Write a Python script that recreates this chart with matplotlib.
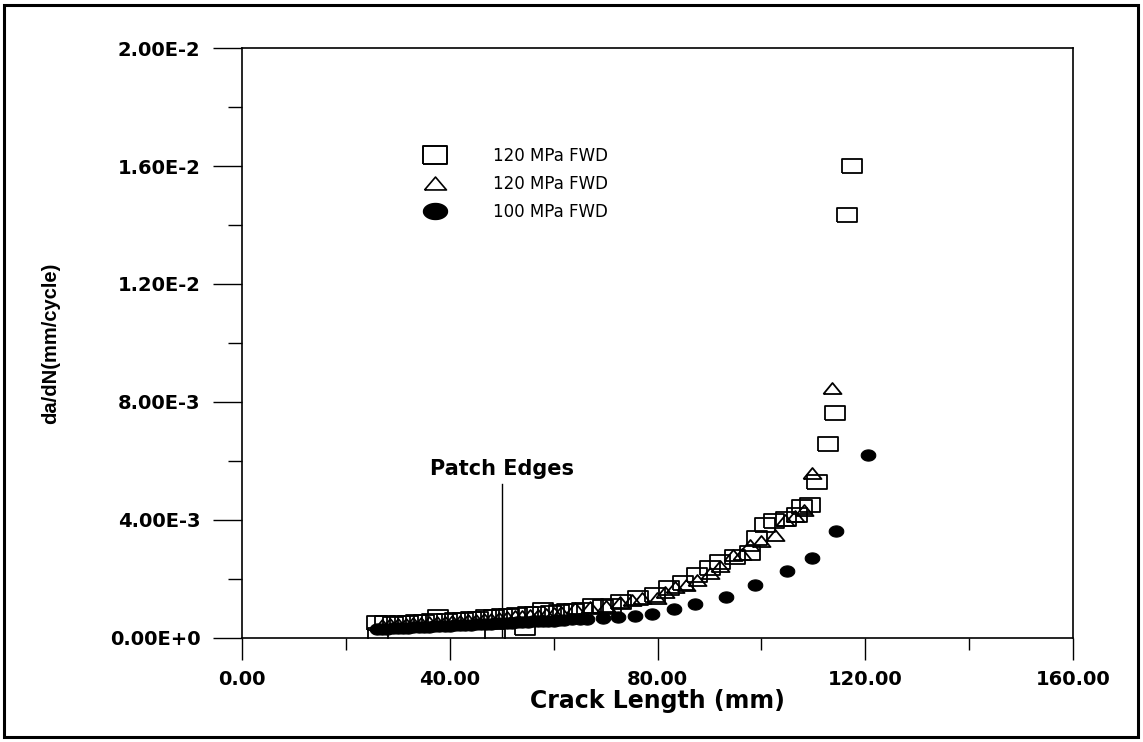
import numpy as np
import matplotlib
matplotlib.use("Agg")
import matplotlib.pyplot as plt
from matplotlib.lines import Line2D
from matplotlib.patches import Rectangle
from matplotlib.ticker import MultipleLocator, FuncFormatter

# --- data (crack length in mm, da/dN in mm/cycle) ---
sq_x = [26.2, 26.0, 27.5, 29.0, 30.5, 32.0, 33.5, 35.0, 36.5, 37.7, 39.5, 41.0, 42.5,
        44.0, 45.5, 47.0, 48.5, 48.8, 50.0, 51.5, 53.0, 54.5, 55.0, 56.5, 58.0, 59.5,
        61.0, 62.5, 64.0, 65.5, 67.5, 69.5, 71.0, 73.0, 76.2, 79.5, 82.2, 84.9, 87.6,
        90.1, 92.0, 94.9, 97.8, 99.2, 100.7, 102.5, 104.8, 106.8, 107.8, 109.4, 110.7,
        112.8, 114.2, 116.5, 117.4]
sq_y = [0.10, 0.52, 0.50, 0.48, 0.50, 0.52, 0.53, 0.55, 0.57, 0.71, 0.58, 0.60, 0.61,
        0.63, 0.66, 0.70, 0.72, 0.05, 0.75, 0.76, 0.78, 0.34, 0.80, 0.82, 0.95, 0.86,
        0.88, 0.90, 0.93, 0.96, 1.10, 1.05, 1.10, 1.22, 1.36, 1.46, 1.69, 1.86, 2.14,
        2.37, 2.58, 2.75, 2.88, 3.39, 3.83, 3.95, 4.05, 4.17, 4.44, 4.51, 5.29,
        6.58, 7.63, 14.34, 16.00]

tri_x = [27.0, 28.5, 30.0, 31.5, 33.0, 34.5, 36.0, 37.5, 39.0, 40.5, 42.0, 43.5, 45.0,
         46.5, 48.0, 49.5, 51.0, 52.5, 54.0, 55.5, 57.0, 58.5, 60.0, 61.5, 64.1, 67.0,
         70.0, 72.8, 75.0, 77.0, 79.9, 81.5, 83.4, 85.5, 87.6, 90.1, 92.0, 94.5, 96.2,
         97.8, 100.0, 102.6, 104.5, 106.5, 108.2, 109.7, 113.6]
tri_y = [0.45, 0.46, 0.47, 0.48, 0.50, 0.51, 0.53, 0.54, 0.55, 0.57, 0.58, 0.60, 0.62,
         0.64, 0.66, 0.68, 0.71, 0.73, 0.75, 0.77, 0.79, 0.82, 0.85, 0.88, 1.00, 1.05,
         1.10, 1.22, 1.28, 1.36, 1.36, 1.55, 1.73, 1.78, 1.95, 2.20, 2.45, 2.80, 2.85,
         3.15, 3.30, 3.49, 4.00, 4.12, 4.35, 5.59, 8.47]

cir_x = [26.0, 27.0, 28.0, 29.0, 30.0, 31.0, 32.0, 33.0, 34.0, 35.0, 36.0, 37.0, 38.0,
         39.0, 40.0, 41.0, 42.0, 43.0, 44.0, 45.0, 46.0, 47.0, 48.0, 49.0, 50.0, 51.0,
         52.0, 53.0, 54.0, 55.0, 56.0, 57.0, 58.0, 59.0, 60.0, 61.0, 62.0, 63.5, 65.0,
         66.5, 69.5, 72.4, 75.7, 78.9, 83.2, 87.2, 93.2, 98.8, 104.9, 109.7, 114.4, 120.5]
cir_y = [0.30, 0.31, 0.32, 0.33, 0.33, 0.34, 0.35, 0.36, 0.37, 0.38, 0.38, 0.39, 0.40,
         0.41, 0.42, 0.43, 0.44, 0.45, 0.45, 0.46, 0.47, 0.48, 0.49, 0.50, 0.51, 0.52,
         0.52, 0.53, 0.54, 0.55, 0.56, 0.57, 0.58, 0.58, 0.59, 0.60, 0.61, 0.63, 0.64,
         0.65, 0.68, 0.71, 0.75, 0.81, 0.98, 1.15, 1.39, 1.80, 2.27, 2.71, 3.63, 6.20]

labels = ["120 MPa FWD", "120 MPa FWD", "100 MPa FWD"]
patch_edge_x = 50.0

# marker shapes (the scanned original is stretched sideways)
def _rect(r):
    return [(-r, -1), (r, -1), (r, 1), (-r, 1), (-r, -1)]

def _tri(r):
    return [(-r, -0.5), (r, -0.5), (0, 0.5), (-r, -0.5)]

def _ellipse(r):
    t = np.linspace(0, 2 * np.pi, 40)
    return np.column_stack([r * np.cos(t), np.sin(t)])

fig = plt.figure(figsize=(11.43, 7.42), dpi=100)
ax = fig.add_axes([0.2117, 0.1402, 0.7271, 0.7951])

tick_font = dict(family="DejaVu Sans", weight="bold", size=14)

ax.plot(np.array(cir_x), np.array(cir_y) * 1e-3, linestyle="none", marker=_ellipse(1.3),
        markersize=10.5, color="black", markeredgewidth=0.8, zorder=3)
ax.plot(np.array(tri_x), np.array(tri_y) * 1e-3, linestyle="none", marker=_tri(0.82),
        markersize=13, markerfacecolor="none", markeredgecolor="black",
        markeredgewidth=1.3, zorder=4)
ax.plot(np.array(sq_x), np.array(sq_y) * 1e-3, linestyle="none", marker=_rect(1.4),
        markersize=15, markerfacecolor="none", markeredgecolor="black",
        markeredgewidth=1.3, zorder=5)

# patch edge marker
ax.plot([patch_edge_x, patch_edge_x], [0, 5.22e-3], color="black", lw=1.0, zorder=2)
ax.text(patch_edge_x, 5.52e-3, "Patch Edges", ha="center", va="baseline",
        family="DejaVu Sans", weight="bold", size=15)

ax.set_xlim(0, 160)
ax.set_ylim(0, 0.02)
ax.xaxis.set_major_locator(MultipleLocator(40))
ax.xaxis.set_minor_locator(MultipleLocator(20))
ax.yaxis.set_major_locator(MultipleLocator(0.004))
ax.yaxis.set_minor_locator(MultipleLocator(0.002))
ax.xaxis.set_major_formatter(FuncFormatter(lambda v, p: f"{v:.2f}"))


def _sci(v, p):
    if abs(v) < 1e-12:
        return "0.00E+0"
    e = int(np.floor(np.log10(abs(v))))
    return f"{v / 10**e:.2f}E{e:d}"


ax.yaxis.set_major_formatter(FuncFormatter(_sci))
ax.tick_params(axis="y", which="major", direction="out", length=21, width=1.0, pad=9)
ax.tick_params(axis="y", which="minor", direction="out", length=10, width=1.0)
ax.tick_params(axis="x", which="major", direction="out", length=16, width=1.0, pad=7)
ax.tick_params(axis="x", which="minor", direction="out", length=8.5, width=1.0)
for lab in ax.get_xticklabels() + ax.get_yticklabels():
    lab.set_fontproperties(matplotlib.font_manager.FontProperties(**tick_font))
for sp in ax.spines.values():
    sp.set_linewidth(1.2)

ax.set_xlabel("Crack Length (mm)", family="DejaVu Sans", weight="bold", size=17,
              labelpad=0)
ax.set_ylabel("da/dN(mm/cycle)", family="Liberation Sans", weight="bold", size=14.5,
              labelpad=36)

handles = [
    Line2D([], [], linestyle="none", marker=_rect(1.4), markersize=17.3,
           markerfacecolor="none", markeredgecolor="black", markeredgewidth=1.4),
    Line2D([], [], linestyle="none", marker=_tri(0.85), markersize=15.8,
           markerfacecolor="none", markeredgecolor="black", markeredgewidth=1.2),
    Line2D([], [], linestyle="none", marker=_ellipse(1.5), markersize=17.3,
           color="black"),
]
ax.legend(handles, labels, loc="upper left", bbox_to_anchor=(0.2122, 0.832),
          frameon=False, borderpad=0, borderaxespad=0, handlelength=2.0,
          handletextpad=2.48, labelspacing=0.6, prop=dict(family="DejaVu Sans", size=12))

# page border of the scanned figure
fig.add_artist(Rectangle((4 / 1143, 5 / 742), 1134 / 1143, 732 / 742,
                         transform=fig.transFigure, fill=False, lw=2.2, color="black"))

fig.savefig("out.png", dpi=100)
